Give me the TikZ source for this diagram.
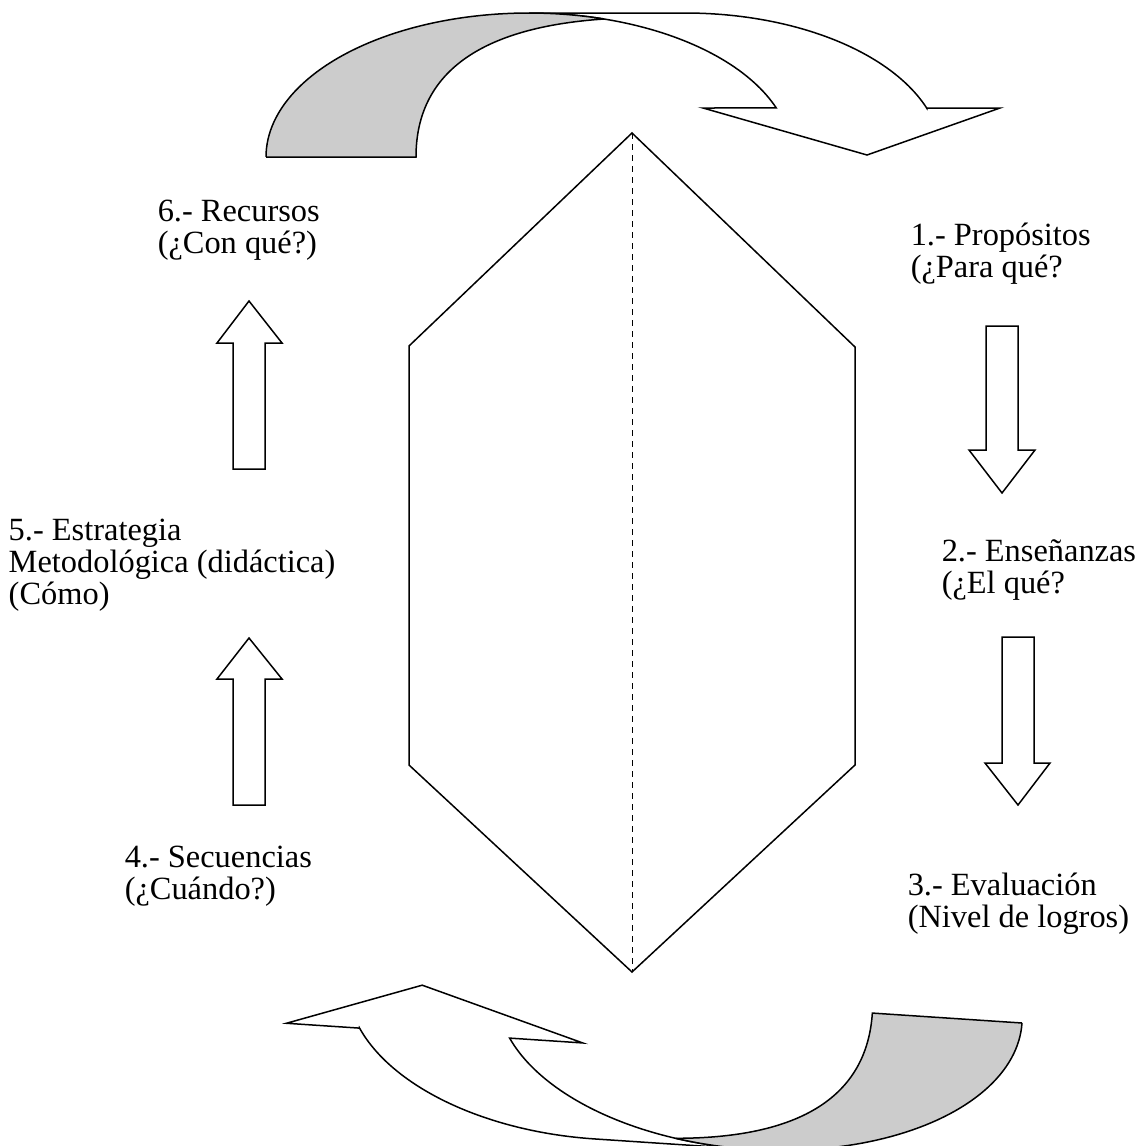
\documentclass[tikz,border=0pt]{standalone}
\usepackage{fontspec}
\setmainfont{Liberation Serif}
\definecolor{shade}{RGB}{204,204,204}
\newcommand\loopshape{%
  \draw[fill=white] plot[domain=270:340.1,samples=50] ({529+263*cos(\x)},{157+144*sin(\x)})
    -- (703,108) -- (867,155) -- (1000,108) -- (927,108)
    -- plot[domain=340.3:270,samples=50] ({685+257*cos(\x)},{157+144*sin(\x)}) -- cycle;
  \draw[fill=shade] (266,157) -- (416,157) .. controls (416,80) and (470,28) .. (604,19)
    -- plot[domain=286.6:180,samples=60] ({529+263*cos(\x)},{157+144*sin(\x)}) -- cycle;
}
\begin{document}
\begin{tikzpicture}[x=1pt,y=-1pt,line width=1.5pt,line join=miter,
  lbl/.style={anchor=base west,inner sep=0pt,font=\fontsize{32.4}{32}\selectfont},
  blockarrow/.style={draw,fill=white}]
\useasboundingbox (0,0) rectangle (1141,1146);
\clip (0,0) rectangle (1141,1146);
% hexagon
\coordinate (ht) at (632,133);
\coordinate (hur) at (855,347);
\coordinate (hlr) at (855,765);
\coordinate (hb) at (632,972);
\coordinate (hll) at (409,765);
\coordinate (hul) at (409,346);
\draw (ht) -- (hur) -- (hlr) -- (hb) -- (hll) -- (hul) -- cycle;
\draw[line width=1pt,dash pattern=on 6pt off 5pt] (ht) -- (hb);
% curved arrows
\loopshape
\begin{scope}[shift={(1022,1023)},rotate=176.2,shift={(-266,-157)}]
\loopshape
\end{scope}
% block arrows
\draw[blockarrow] (986,326) -- (1018,326) -- (1018,450) -- (1035,450) -- (1002,493) -- (969,450) -- (986,450) -- cycle;
\draw[blockarrow] (1002,637) -- (1034,637) -- (1034,763) -- (1050,763) -- (1018,805) -- (985,763) -- (1002,763) -- cycle;
\draw[blockarrow] (233,469) -- (265,469) -- (265,343) -- (282,343) -- (249,301) -- (217,343) -- (233,343) -- cycle;
\draw[blockarrow] (233,805) -- (265,805) -- (265,679) -- (282,679) -- (249,638) -- (217,679) -- (233,679) -- cycle;
% labels
\node[lbl] (t6) at (157,221) {\begin{tabular}[t]{@{}l@{}}6.- Recursos\\(¿Con qué?)\end{tabular}};
\node[lbl] (t1) at (910,245) {\begin{tabular}[t]{@{}l@{}}1.- Propósitos\\(¿Para qué?\end{tabular}};
\node[lbl] (t5) at (8,540) {\begin{tabular}[t]{@{}l@{}}5.- Estrategia\\Metodológica (didáctica)\\(Cómo)\end{tabular}};
\node[lbl] (t2) at (941,561) {\begin{tabular}[t]{@{}l@{}}2.- Enseñanzas\\(¿El qué?\end{tabular}};
\node[lbl] (t4) at (124,867) {\begin{tabular}[t]{@{}l@{}}4.- Secuencias\\(¿Cuándo?)\end{tabular}};
\node[lbl] (t3) at (907,895) {\begin{tabular}[t]{@{}l@{}}3.- Evaluación\\(Nivel de logros)\end{tabular}};
\end{tikzpicture}
\end{document}
